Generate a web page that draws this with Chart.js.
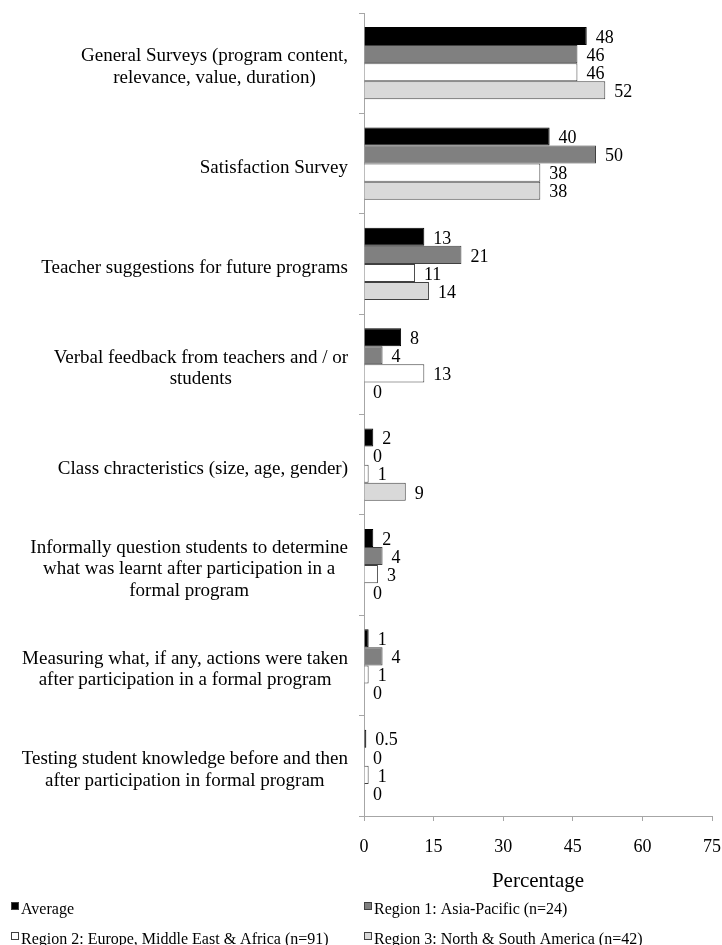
<!DOCTYPE html>
<html>
<head>
<meta charset="utf-8">
<title>Evaluation methods by region</title>
<script src="https://cdn.jsdelivr.net/npm/chart.js@4.4.1/dist/chart.umd.min.js"></script>
<style>
  html, body { margin: 0; padding: 0; background: #fff; overflow: hidden; }
  #wrap { width: 722px; height: 945px; position: relative; }
</style>
</head>
<body>
<div id="wrap"><canvas id="evalChart"></canvas></div>
<script>
// categories (each entry is the label split into its lines)
const categories = [
    ['General Surveys (program content,', 'relevance, value, duration)'],
    ['Satisfaction Survey'],
    ['Teacher suggestions for future programs'],
    ['Verbal feedback from teachers and / or', 'students'],
    ['Class chracteristics (size, age, gender)'],
    ['Informally question students to determine', 'what was learnt after participation in a', 'formal program'],
    ['Measuring what, if any, actions were taken', 'after participation in a formal program'],
    ['Testing student knowledge before and then', 'after participation in formal program']
];

const seriesNames = [
    'Average',
    'Region 1: Asia-Pacific (n=24)',
    'Region 2: Europe, Middle East & Africa (n=91)',
    'Region 3: North & South America (n=42)'
];

const average = [48, 40, 13, 8, 2, 2, 1, 0.5];
const region1 = [46, 50, 21, 4, 0, 4, 4, 0];
const region2 = [46, 38, 11, 13, 1, 3, 1, 1];
const region3 = [52, 38, 14, 0, 9, 0, 0, 0];

const xTicks = [0, 15, 30, 45, 60, 75];

const serif = '"Liberation Serif", "Times New Roman", serif';
const fills = ['#000000', '#808080', '#ffffff', '#d9d9d9'];

// value labels to the right of each bar
const valueLabels = {
    id: 'valueLabels',
    afterDatasetsDraw(chart) {
        const ctx = chart.ctx;
        ctx.save();
        ctx.font = '18px ' + serif;
        ctx.fillStyle = '#000';
        ctx.textBaseline = 'middle';
        ctx.textAlign = 'left';
        chart.data.datasets.forEach((ds, i) => {
            chart.getDatasetMeta(i).data.forEach((bar, j) => {
                ctx.fillText(String(ds.data[j]), bar.x + 9, bar.y + 2);
            });
        });
        ctx.restore();
    }
};

// category labels: block right-aligned, lines centred on each other
const categoryLabels = {
    id: 'categoryLabels',
    afterDraw(chart) {
        const ctx = chart.ctx;
        const y = chart.scales.y;
        const right = 348;
        const lh = 21.5;
        ctx.save();
        ctx.font = '19px ' + serif;
        ctx.fillStyle = '#000';
        ctx.textBaseline = 'middle';
        ctx.textAlign = 'center';
        categories.forEach((lines, i) => {
            const w = Math.max(...lines.map(l => ctx.measureText(l).width));
            const cx = right - w / 2;
            const cy = y.getPixelForValue(i) + 4;
            lines.forEach((l, k) => {
                ctx.fillText(l, cx, cy + (k - (lines.length - 1) / 2) * lh);
            });
        });
        ctx.restore();
    }
};

// two-column legend under the axis title
const gridLegend = {
    id: 'gridLegend',
    afterDraw(chart) {
        const ctx = chart.ctx;
        const cols = [11, 364];
        const rows = [910, 940];
        ctx.save();
        ctx.font = '16px ' + serif;
        ctx.textBaseline = 'middle';
        ctx.textAlign = 'left';
        seriesNames.forEach((name, i) => {
            const x = cols[i % 2];
            const y = rows[Math.floor(i / 2)];
            ctx.fillStyle = fills[i];
            ctx.fillRect(x + 0.5, y - 7.5, 7, 7);
            ctx.strokeStyle = '#404040';
            ctx.lineWidth = 1;
            ctx.strokeRect(x + 0.5, y - 7.5, 7, 7);
            ctx.fillStyle = '#000';
            ctx.fillText(name, x + 10, y);
        });
        ctx.restore();
    }
};

const datasets = [average, region1, region2, region3].map((vals, i) => ({
    label: seriesNames[i],
    data: vals,
    backgroundColor: fills[i],
    borderColor: i === 0 ? '#000000' : '#404040',
    borderWidth: 1,
    barPercentage: 1.0,
    categoryPercentage: 0.72
}));

new Chart(document.getElementById('evalChart'), {
    type: 'bar',
    data: {
        labels: categories.map(l => l.join(' ')),
        datasets: datasets
    },
    options: {
        indexAxis: 'y',
        responsive: true,
        maintainAspectRatio: false,
        animation: false,
        layout: { padding: { top: 13, right: 10, bottom: 50, left: 0 } },
        plugins: {
            legend: { display: false },
            tooltip: { enabled: false }
        },
        scales: {
            x: {
                min: 0,
                max: 75,
                afterBuildTicks: (scale) => { scale.ticks = xTicks.map(v => ({ value: v })); },
                afterFit: (scale) => {
                    scale.height = 79;
                    scale.paddingLeft = 0;
                    scale.paddingRight = 0;
                },
                border: { color: '#a6a6a6', width: 1 },
                grid: { drawOnChartArea: false, tickLength: 5, color: '#a6a6a6' },
                ticks: {
                    padding: 15,
                    color: '#000',
                    font: { family: serif, size: 18 }
                },
                title: {
                    display: true,
                    text: 'Percentage',
                    color: '#000',
                    font: { family: serif, size: 21 },
                    padding: { top: 10, bottom: 1 }
                }
            },
            y: {
                afterFit: (scale) => { scale.width = 364; },
                border: { color: '#a6a6a6', width: 1 },
                grid: { drawOnChartArea: false, offset: true, tickLength: 5, color: '#a6a6a6' },
                ticks: { display: false }
            }
        }
    },
    plugins: [valueLabels, categoryLabels, gridLegend]
});
</script>
</body>
</html>
